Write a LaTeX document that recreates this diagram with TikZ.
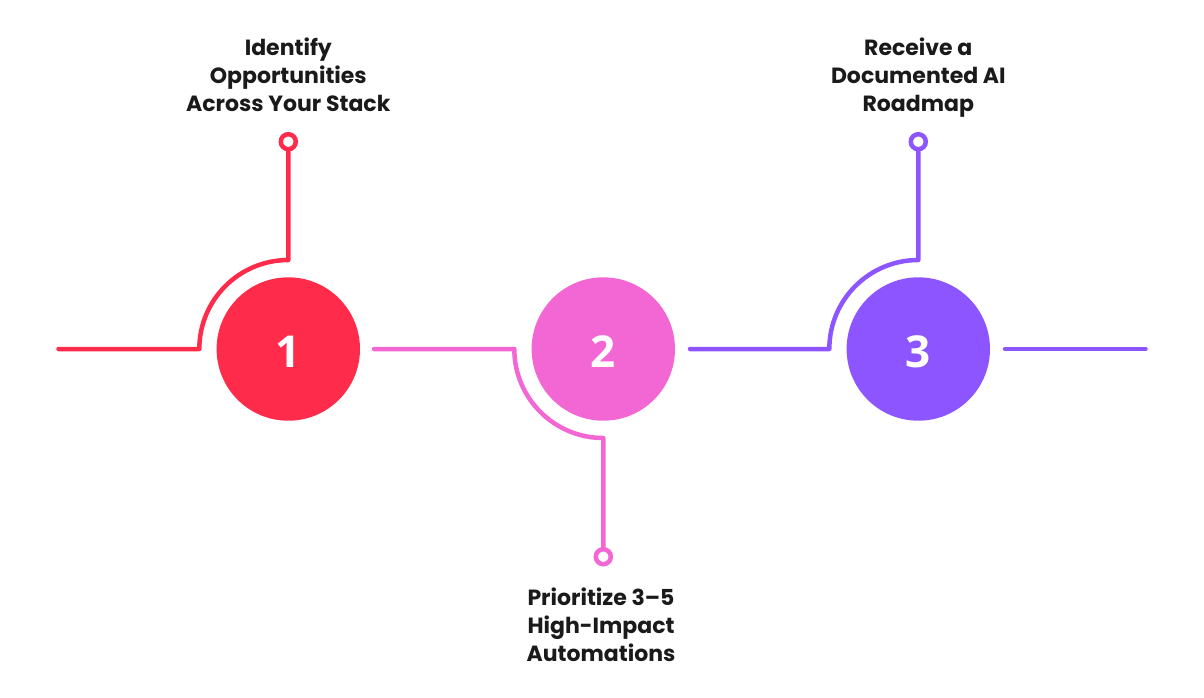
\documentclass[tikz,border=0pt]{standalone}
\usepackage{fontspec}
\setmainfont{Poppins}
\newfontfamily\digitfont{Open Sans}
\definecolor{cred}{RGB}{255,43,75}
\definecolor{cpink}{RGB}{242,103,212}
\definecolor{cpurp}{RGB}{141,85,255}
\definecolor{ctext}{RGB}{26,26,26}
\begin{document}
\begin{tikzpicture}[x=1pt,y=-1pt,
  bigdot/.style={circle,minimum size=143.4pt,inner sep=0pt},
  digit/.style={text=white,font=\digitfont\bfseries\fontsize{44}{44}\selectfont},
  enddot/.style={circle,minimum size=15pt,inner sep=0pt,line width=4.5pt,fill=white},
  conn/.style={line width=4.5pt,line cap=round,line join=round},
  lbl/.style={align=center,text=ctext,font=\bfseries\fontsize{22}{28}\selectfont}]
\useasboundingbox (0,0) rectangle (1204,697);
% main circles
\node[bigdot,fill=cred] (c1) at (288.3,349) {};
\node[bigdot,fill=cpink] (c2) at (603.3,349) {};
\node[bigdot,fill=cpurp] (c3) at (918.3,349) {};
\node[digit] (n1) at ([yshift=-3pt]c1.center) {1};
\node[digit] (n2) at ([yshift=-3pt]c2.center) {2};
\node[digit] (n3) at ([yshift=-3pt]c3.center) {3};
% end coordinates
\coordinate (a1) at (58.5,349);
\coordinate (b1) at (199.3,349);
\coordinate (a2) at (374,349);
\coordinate (b2) at (514.3,349);
\coordinate (a3) at (690,349);
\coordinate (b3) at (829.3,349);
\coordinate (a4) at (1005,349);
\coordinate (b4) at (1145.5,349);
% end dots
\node[enddot] (d1) at (288.3,141.7) {};
\node[enddot] (d2) at (603.3,556.7) {};
\node[enddot] (d3) at (918.3,141.7) {};
% connectors
\draw[conn,cred] (a1) -- (b1) arc[start angle=180,end angle=270,radius=89] -- (d1.south);
\draw[conn,cpink] (a2) -- (b2) arc[start angle=180,end angle=90,radius=89] -- (d2.north);
\draw[conn,cpurp] (a3) -- (b3) arc[start angle=180,end angle=270,radius=89] -- (d3.south);
\draw[conn,cpurp] (a4) -- (b4);
% end dot rings
\draw[cred,line width=4.5pt] (d1) circle[radius=7.5];
\draw[cpink,line width=4.5pt] (d2) circle[radius=7.5];
\draw[cpurp,line width=4.5pt] (d3) circle[radius=7.5];
% labels
\node[lbl] (t1) at (288.3,75) {Identify\\Opportunities\\Across Your Stack};
\node[lbl] (t2) at (601,625) {Prioritize 3–5\\ High-Impact\\Automations};
\node[lbl] (t3) at (918.3,77.5) {Receive a\\Documented AI\\Roadmap};
\end{tikzpicture}
\end{document}
